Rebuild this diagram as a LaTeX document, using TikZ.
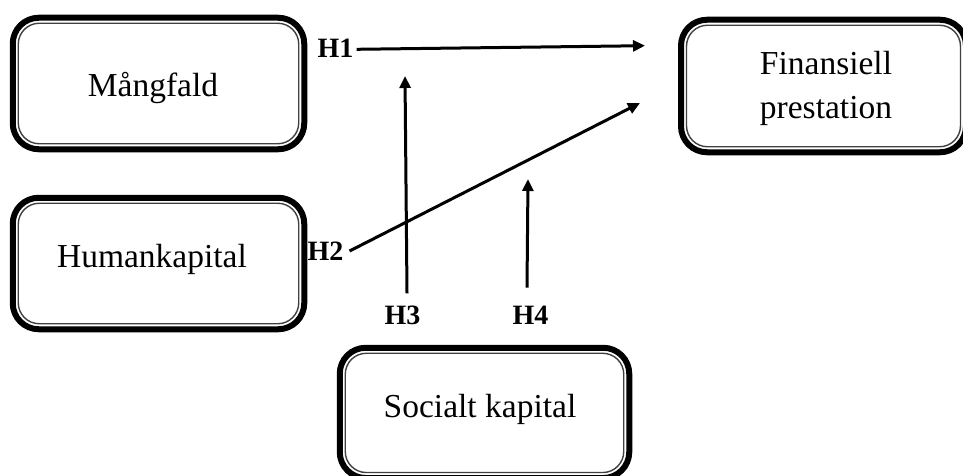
\documentclass[tikz,border=0pt]{standalone}
\usepackage{fontspec}
\setmainfont{Liberation Serif}
\usetikzlibrary{arrows.meta}
\begin{document}
\begin{tikzpicture}[x=1pt,y=1pt,
  boxnode/.style={draw=black, line width=6pt, rounded corners=26pt, outer sep=0pt, inner sep=0pt},
  inbox/.style={draw=black!75, line width=1.4pt, rounded corners=21pt},
  boxtext/.style={font=\fontsize{33.5}{44}\selectfont, align=center, inner sep=0pt},
  hlabel/.style={font=\fontsize{28}{30}\selectfont\bfseries, inner sep=0pt},
  arr/.style={line width=3pt, -{Triangle[length=12pt,width=11pt]}}]
\useasboundingbox (0,0) rectangle (963,475);
% boxes
\node[boxnode, minimum width=291.5pt, minimum height=131.5pt] (m) at (158.5,391.5) {};
\node[boxnode, minimum width=291.5pt, minimum height=131.5pt] (h) at (158.5,211.5) {};
\node[boxnode, minimum width=285pt, minimum height=132.5pt] (f) at (823.5,389) {};
\node[boxnode, minimum width=289.5pt, minimum height=130.25pt] (s) at (484.5,62.1) {};
\foreach \b in {m,h,f,s}{
  \draw[inbox] ([shift={(5.5pt,-5.5pt)}]\b.north west) rectangle ([shift={(-5.5pt,5.5pt)}]\b.south east);
}
% box texts
\node[boxtext] (mt) at (153,387.5) {Mångfald};
\node[boxtext] (ht) at (152,216) {Humankapital};
\node[boxtext] (ft) at (826,387) {Finansiell\\prestation};
\node[boxtext] (st) at (480,66) {Socialt kapital};
% hypothesis labels
\node[hlabel] (h1) at (335.5,426.5) {H1};
\node[hlabel] (h2) at (325.5,224) {H2};
\node[hlabel] (h3) at (402.5,160) {H3};
\node[hlabel] (h4) at (530.5,160) {H4};
% arrow tips
\coordinate (t1) at (645,429.3);
\coordinate (t2) at (640,372);
\coordinate (t3) at (405,399);
\coordinate (t4) at (528,296);
% connectors
\draw[arr] ([xshift=3pt,yshift=-0.8pt]h1.east) -- (t1);
\draw[arr] ([xshift=6pt]h2.east) -- (t2);
\draw[arr] ([xshift=4.5pt,yshift=12pt]h3.north) -- (t3);
\draw[arr] ([xshift=-3.5pt,yshift=18pt]h4.north) -- (t4);
\end{tikzpicture}
\end{document}
